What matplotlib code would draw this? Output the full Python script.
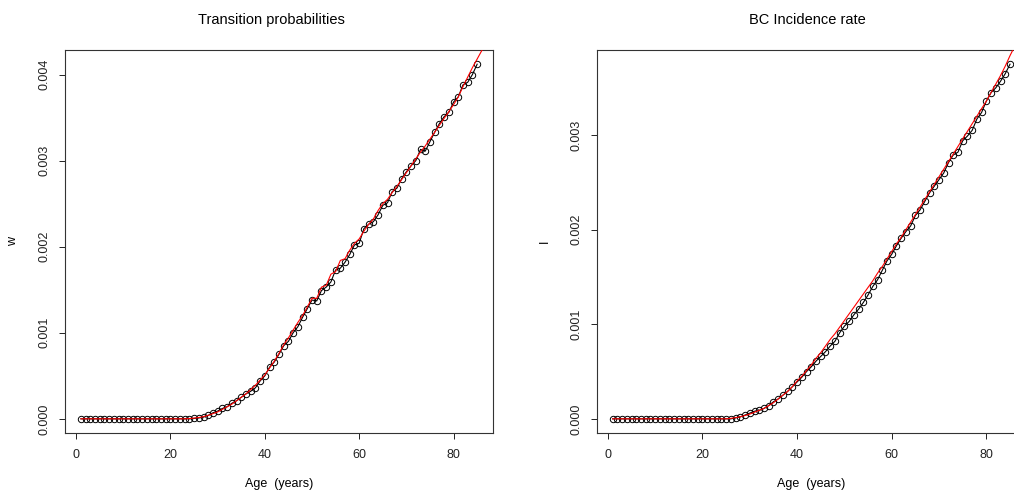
import matplotlib
matplotlib.use("Agg")
import matplotlib.pyplot as plt
import numpy as np

plt.rcParams['font.family'] = ['Liberation Sans', 'DejaVu Sans']

# ages 1..85 for the observed points
age = list(range(1, 86))

# left panel: transition probabilities (black points), ages 1..85
w_obs = [0.0] * 24 + [
    0.000005, 0.00001, 0.00002, 0.00004, 0.00007, 0.00009, 0.00012, 0.00014,   # 25-32
    0.00018, 0.00021, 0.00025, 0.00029, 0.00032, 0.00036, 0.00044, 0.00050,    # 33-40
    0.00060, 0.00066, 0.00075, 0.00085, 0.00090, 0.00100, 0.00107, 0.00118,    # 41-48
    0.00128, 0.00138, 0.00137, 0.00149, 0.00153, 0.00159, 0.00173, 0.00175,    # 49-56
    0.00182, 0.00191, 0.00202, 0.00204, 0.00221, 0.00226, 0.00229, 0.00237,    # 57-64
    0.00248, 0.00251, 0.00264, 0.00268, 0.00279, 0.00287, 0.00294, 0.00300,    # 65-72
    0.00313, 0.00311, 0.00322, 0.00333, 0.00343, 0.00351, 0.00356, 0.00368,    # 73-80
    0.00374, 0.00388, 0.00391, 0.00400, 0.00412,                               # 81-85
]

# left panel: fitted curve (red), ages 1..87
fit_age = list(range(1, 88))
w_fit = [0.0] * 23 + [
    0.000003, 0.000008, 0.000015, 0.000025, 0.00004, 0.00006, 0.00008,         # 24-30
    0.00011, 0.00014, 0.00017, 0.00021, 0.00025, 0.00029, 0.00034, 0.00039,    # 31-38
    0.00045, 0.00051, 0.00059, 0.00067, 0.00076, 0.00086, 0.00094, 0.00103,    # 39-46
    0.00112, 0.00120, 0.00130, 0.00140, 0.00140, 0.00153, 0.00155, 0.00168,    # 47-54
    0.00171, 0.00184, 0.00186, 0.00196, 0.00204, 0.00209, 0.00218, 0.00226,    # 55-62
    0.00232, 0.00242, 0.00250, 0.00255, 0.00263, 0.00270, 0.00278, 0.00286,    # 63-70
    0.00294, 0.00302, 0.00310, 0.00317, 0.00325, 0.00333, 0.00341, 0.00349,    # 71-78
    0.00357, 0.00365, 0.00374, 0.00386, 0.00397, 0.00408, 0.00418, 0.00428,    # 79-86
    0.00438,                                                                    # 87
]

# right panel: BC incidence rate (black points), ages 1..85
i_obs = [0.0] * 26 + [
    0.00001, 0.00002, 0.00004, 0.00006, 0.00008, 0.00009, 0.00011, 0.00014,    # 27-34
    0.00018, 0.00021, 0.00025, 0.00029, 0.00034, 0.00039, 0.00044, 0.00050,    # 35-42
    0.00055, 0.00061, 0.00066, 0.00071, 0.00077, 0.00082, 0.00091, 0.00098,    # 43-50
    0.00103, 0.00110, 0.00116, 0.00123, 0.00131, 0.00140, 0.00147, 0.00157,    # 51-58
    0.00167, 0.00174, 0.00183, 0.00191, 0.00198, 0.00204, 0.00215, 0.00221,    # 59-66
    0.00230, 0.00239, 0.00246, 0.00253, 0.00260, 0.00271, 0.00279, 0.00282,    # 67-74
    0.00294, 0.00299, 0.00305, 0.00317, 0.00324, 0.00336, 0.00345, 0.00350,    # 75-82
    0.00357, 0.00365, 0.00375,                                                 # 83-85
]

# right panel: fitted curve (red), ages 1..86
fit_age_r = list(range(1, 87))
i_fit = [0.0] * 25 + [
    0.000005, 0.000012, 0.000022, 0.000035, 0.00005, 0.00007, 0.00009,         # 26-32
    0.00011, 0.00014, 0.00017, 0.00021, 0.00025, 0.00029, 0.00034, 0.00040,    # 33-40
    0.00045, 0.00051, 0.00057, 0.00064, 0.00070, 0.00077, 0.00084, 0.00090,    # 41-48
    0.00097, 0.00104, 0.00111, 0.00118, 0.00125, 0.00132, 0.00139, 0.00146,    # 49-56
    0.00154, 0.00161, 0.00169, 0.00177, 0.00185, 0.00192, 0.00200, 0.00208,    # 57-64
    0.00216, 0.00224, 0.00232, 0.00240, 0.00248, 0.00256, 0.00264, 0.00272,    # 65-72
    0.00280, 0.00288, 0.00296, 0.00304, 0.00312, 0.00320, 0.00328, 0.00336,    # 73-80
    0.00345, 0.00354, 0.00363, 0.00373, 0.00384, 0.00394,                      # 81-86
]

W, H = 1014, 491
fig = plt.figure(figsize=(W / 100, H / 100), dpi=100)


def px(x0, y0, x1, y1):
    # pixel box -> figure fraction
    return [x0 / W, 1 - y1 / H, (x1 - x0) / W, (y1 - y0) / H]


def r_panel(ax, x, y, fx, fy, yticks, ylab):
    ax.plot(x, y, color='black', lw=0.8, marker='o', ms=4.6, mfc='none',
            mec='black', mew=0.7, zorder=2)
    ax.plot(fx, fy, color='red', lw=0.8, zorder=3)
    xr = max(x) - min(x)
    ax.set_xlim(min(x) - 0.04 * xr, max(x) + 0.04 * xr)
    yr = max(y) - min(y)
    ax.set_ylim(min(y) - 0.04 * yr, max(y) + 0.04 * yr)
    ax.set_xticks([0, 20, 40, 60, 80])
    ax.set_yticks(yticks)
    ax.set_yticklabels([f"{t:.3f}" for t in yticks], rotation=90, va='center')
    ax.tick_params(direction='out', length=4.5, width=0.7, labelsize=9,
                   colors='#222222')
    ax.tick_params(axis='x', pad=7)
    ax.tick_params(axis='y', pad=6)
    for s in ax.spines.values():
        s.set_linewidth(0.8)
        s.set_color('#333333')
    ax.set_xlabel('Age  (years)', fontsize=9, labelpad=12)
    ax.set_ylabel(ylab, fontsize=9, labelpad=14)


ax1 = fig.add_axes(px(65, 50, 493, 433))
r_panel(ax1, age, w_obs, fit_age, w_fit, [0.0, 0.001, 0.002, 0.003, 0.004], 'w')
fig.text(271.5 / W, 1 - 20 / H, 'Transition probabilities', ha='center',
         va='center', fontsize=10.5)

ax2 = fig.add_axes(px(596.7, 50, 1025.9, 433))
r_panel(ax2, age, i_obs, fit_age_r, i_fit, [0.0, 0.001, 0.002, 0.003], 'I')
fig.text(807.5 / W, 1 - 20 / H, 'BC Incidence rate', ha='center',
         va='center', fontsize=10.5)

fig.savefig('out.png', dpi=100)
